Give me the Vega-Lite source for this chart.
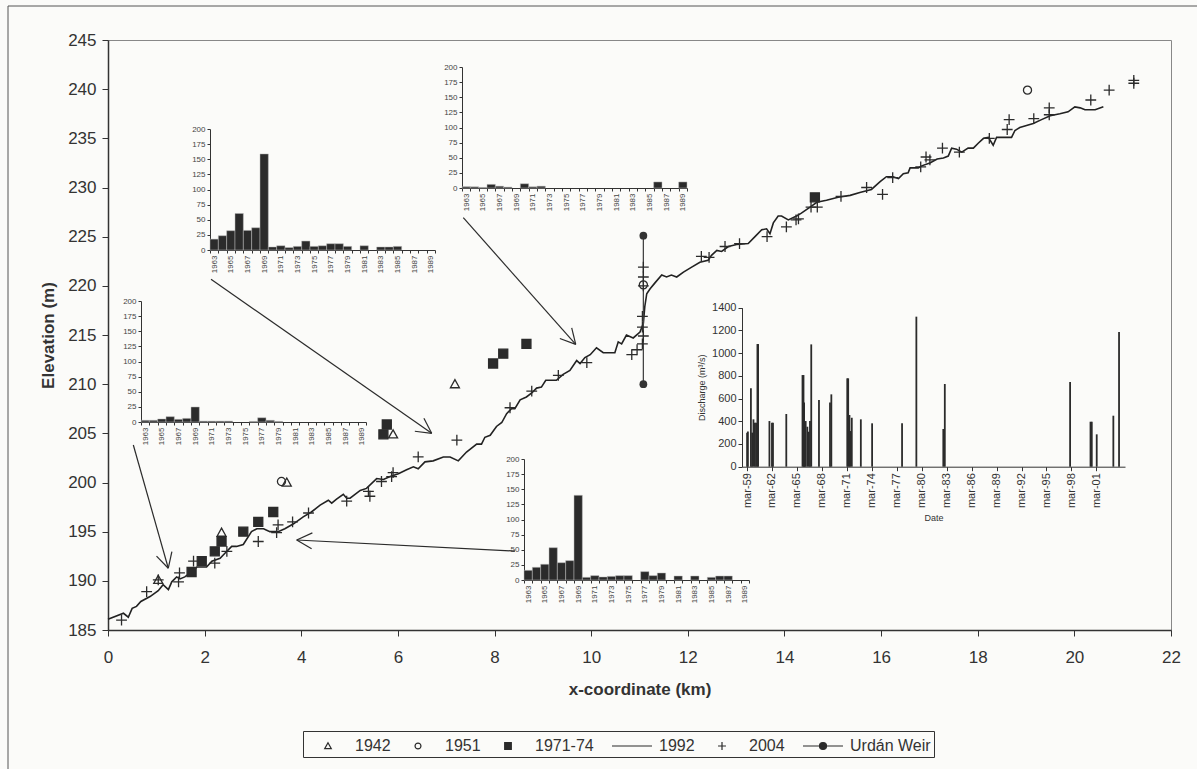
{
  "$schema": "https://vega.github.io/schema/vega-lite/v6.json",
  "autosize": {"type": "none"},
  "width": 1063,
  "height": 590,
  "padding": {"left": 108, "top": 40, "right": 26, "bottom": 139},
  "background": "#fbfbf9",
  "config": {
    "font": "Liberation Sans",
    "view": {"stroke": "#888", "strokeWidth": 1},
    "axis": {"grid": false, "domainColor": "#333", "tickColor": "#333", "labelColor": "#333", "titleColor": "#333", "labelFont": "Liberation Sans", "titleFont": "Liberation Sans"}
  },
  "datasets": {
    "line1992": [
      {"x":0.00,"y":186.1},{"x":0.32,"y":186.7},{"x":0.42,"y":186.3},{"x":0.50,"y":187.2},{"x":0.59,"y":187.4},{"x":0.68,"y":187.9},{"x":0.87,"y":188.4},{"x":1.04,"y":189.0},{"x":1.14,"y":189.6},{"x":1.25,"y":189.1},{"x":1.32,"y":189.9},{"x":1.42,"y":190.4},{"x":1.49,"y":190.2},{"x":1.59,"y":190.4},{"x":1.70,"y":190.8},{"x":1.84,"y":191.4},{"x":2.04,"y":191.4},{"x":2.15,"y":192.0},{"x":2.32,"y":192.3},{"x":2.42,"y":192.8},{"x":2.56,"y":193.5},{"x":2.66,"y":193.5},{"x":2.80,"y":193.7},{"x":2.97,"y":195.0},{"x":3.08,"y":195.3},{"x":3.22,"y":195.3},{"x":3.35,"y":195.0},{"x":3.52,"y":195.0},{"x":3.66,"y":195.3},{"x":3.84,"y":195.8},{"x":4.04,"y":196.5},{"x":4.21,"y":197.0},{"x":4.39,"y":197.7},{"x":4.56,"y":198.2},{"x":4.63,"y":197.9},{"x":4.73,"y":198.3},{"x":4.87,"y":198.8},{"x":4.94,"y":198.4},{"x":5.01,"y":198.4},{"x":5.22,"y":199.2},{"x":5.35,"y":199.4},{"x":5.56,"y":200.4},{"x":5.70,"y":200.3},{"x":5.84,"y":200.6},{"x":6.01,"y":200.9},{"x":6.18,"y":201.3},{"x":6.32,"y":201.6},{"x":6.42,"y":201.4},{"x":6.56,"y":202.1},{"x":6.73,"y":202.2},{"x":6.94,"y":202.6},{"x":7.08,"y":202.6},{"x":7.25,"y":202.2},{"x":7.42,"y":203.1},{"x":7.63,"y":203.9},{"x":7.73,"y":203.9},{"x":7.80,"y":204.6},{"x":7.91,"y":204.8},{"x":8.04,"y":205.7},{"x":8.15,"y":206.1},{"x":8.25,"y":207.0},{"x":8.35,"y":207.5},{"x":8.42,"y":207.5},{"x":8.53,"y":208.4},{"x":8.66,"y":208.7},{"x":8.77,"y":209.1},{"x":8.87,"y":209.6},{"x":8.97,"y":209.7},{"x":9.06,"y":210.4},{"x":9.28,"y":210.4},{"x":9.42,"y":211.0},{"x":9.56,"y":211.4},{"x":9.70,"y":212.4},{"x":9.77,"y":212.1},{"x":9.87,"y":212.7},{"x":9.98,"y":213.0},{"x":10.11,"y":213.7},{"x":10.25,"y":213.2},{"x":10.49,"y":213.2},{"x":10.56,"y":214.3},{"x":10.63,"y":214.1},{"x":10.73,"y":215.0},{"x":10.87,"y":214.7},{"x":11.01,"y":215.3},{"x":11.08,"y":216.2},{"x":11.11,"y":217.9},{"x":11.15,"y":219.2},{"x":11.22,"y":219.7},{"x":11.32,"y":220.3},{"x":11.46,"y":221.1},{"x":11.56,"y":220.9},{"x":11.66,"y":221.1},{"x":11.77,"y":220.9},{"x":11.91,"y":221.4},{"x":12.08,"y":221.9},{"x":12.25,"y":222.4},{"x":12.42,"y":222.6},{"x":12.49,"y":223.1},{"x":12.60,"y":223.6},{"x":12.70,"y":223.5},{"x":12.84,"y":224.0},{"x":13.01,"y":224.2},{"x":13.25,"y":224.3},{"x":13.39,"y":225.0},{"x":13.53,"y":225.7},{"x":13.63,"y":225.8},{"x":13.70,"y":225.3},{"x":13.77,"y":226.4},{"x":13.87,"y":227.1},{"x":13.94,"y":227.1},{"x":14.08,"y":226.7},{"x":14.25,"y":227.1},{"x":14.35,"y":227.4},{"x":14.53,"y":228.0},{"x":14.67,"y":228.5},{"x":14.87,"y":228.7},{"x":15.11,"y":229.0},{"x":15.36,"y":229.2},{"x":15.56,"y":229.5},{"x":15.80,"y":229.8},{"x":15.98,"y":230.6},{"x":16.11,"y":231.1},{"x":16.25,"y":231.1},{"x":16.36,"y":230.9},{"x":16.46,"y":231.4},{"x":16.56,"y":231.5},{"x":16.60,"y":232.0},{"x":16.77,"y":232.0},{"x":16.84,"y":232.2},{"x":17.01,"y":232.5},{"x":17.16,"y":232.9},{"x":17.29,"y":233.0},{"x":17.39,"y":233.2},{"x":17.46,"y":234.0},{"x":17.56,"y":233.9},{"x":17.67,"y":233.6},{"x":17.80,"y":234.0},{"x":17.91,"y":234.0},{"x":18.01,"y":234.5},{"x":18.12,"y":235.0},{"x":18.22,"y":235.1},{"x":18.32,"y":234.3},{"x":18.39,"y":235.1},{"x":18.70,"y":235.1},{"x":18.77,"y":235.8},{"x":18.87,"y":236.1},{"x":19.01,"y":236.3},{"x":19.15,"y":236.5},{"x":19.32,"y":236.9},{"x":19.50,"y":237.3},{"x":19.70,"y":237.5},{"x":19.87,"y":237.7},{"x":20.01,"y":238.2},{"x":20.12,"y":238.1},{"x":20.22,"y":237.9},{"x":20.43,"y":237.9},{"x":20.60,"y":238.2}
    ],
    "points": [
      {"s":"1942","x":1.04,"y":190.1},{"s":"1942","x":2.35,"y":194.9},{"s":"1942","x":3.70,"y":200.0},{"s":"1942","x":5.90,"y":204.9},{"s":"1942","x":7.18,"y":210.0},
      {"s":"1951","x":3.59,"y":200.1},{"s":"1951","x":11.08,"y":220.1},{"s":"1951","x":19.03,"y":239.9},
      {"s":"1971-74","x":1.73,"y":190.9},{"s":"1971-74","x":1.94,"y":192.0},{"s":"1971-74","x":2.21,"y":193.0},{"s":"1971-74","x":2.35,"y":194.0},{"s":"1971-74","x":2.80,"y":195.0},{"s":"1971-74","x":3.11,"y":196.0},{"s":"1971-74","x":3.42,"y":197.0},{"s":"1971-74","x":5.70,"y":204.9},{"s":"1971-74","x":5.77,"y":205.9},{"s":"1971-74","x":7.97,"y":212.1},{"s":"1971-74","x":8.18,"y":213.1},{"s":"1971-74","x":8.66,"y":214.1},{"s":"1971-74","x":14.63,"y":229.0},
      {"s":"2004","x":0.28,"y":186.0},{"s":"2004","x":0.80,"y":188.9},{"s":"2004","x":1.04,"y":190.1},{"s":"2004","x":1.46,"y":189.9},{"s":"2004","x":1.48,"y":190.8},{"s":"2004","x":1.77,"y":192.0},{"s":"2004","x":2.21,"y":191.8},{"s":"2004","x":2.46,"y":193.0},{"s":"2004","x":3.11,"y":194.0},{"s":"2004","x":3.49,"y":194.9},{"s":"2004","x":3.52,"y":195.7},{"s":"2004","x":3.82,"y":196.0},{"s":"2004","x":4.15,"y":196.9},{"s":"2004","x":4.94,"y":198.1},{"s":"2004","x":5.39,"y":199.1},{"s":"2004","x":5.42,"y":198.6},{"s":"2004","x":5.66,"y":200.1},{"s":"2004","x":5.87,"y":200.6},{"s":"2004","x":5.90,"y":201.0},{"s":"2004","x":6.42,"y":202.6},{"s":"2004","x":7.22,"y":204.3},{"s":"2004","x":8.32,"y":207.6},{"s":"2004","x":8.77,"y":209.3},{"s":"2004","x":9.32,"y":210.9},{"s":"2004","x":9.91,"y":212.2},{"s":"2004","x":10.84,"y":213.0},{"s":"2004","x":10.95,"y":213.5},{"s":"2004","x":11.06,"y":214.1},{"s":"2004","x":11.08,"y":214.9},{"s":"2004","x":11.06,"y":215.8},{"s":"2004","x":11.06,"y":216.9},{"s":"2004","x":11.08,"y":220.0},{"s":"2004","x":11.08,"y":220.9},{"s":"2004","x":11.08,"y":221.9},{"s":"2004","x":12.28,"y":223.0},{"s":"2004","x":12.44,"y":222.9},{"s":"2004","x":12.77,"y":224.0},{"s":"2004","x":13.07,"y":224.3},{"s":"2004","x":13.64,"y":225.0},{"s":"2004","x":14.04,"y":226.0},{"s":"2004","x":14.24,"y":226.7},{"s":"2004","x":14.29,"y":226.8},{"s":"2004","x":14.55,"y":228.0},{"s":"2004","x":14.68,"y":228.0},{"s":"2004","x":15.17,"y":229.1},{"s":"2004","x":15.70,"y":230.0},{"s":"2004","x":16.03,"y":229.3},{"s":"2004","x":16.24,"y":231.0},{"s":"2004","x":16.82,"y":232.1},{"s":"2004","x":16.93,"y":233.1},{"s":"2004","x":17.01,"y":232.8},{"s":"2004","x":17.27,"y":234.0},{"s":"2004","x":17.62,"y":233.6},{"s":"2004","x":18.24,"y":235.0},{"s":"2004","x":18.61,"y":235.9},{"s":"2004","x":18.65,"y":236.9},{"s":"2004","x":19.16,"y":237.0},{"s":"2004","x":19.48,"y":238.1},{"s":"2004","x":19.48,"y":237.4},{"s":"2004","x":20.34,"y":238.9},{"s":"2004","x":20.72,"y":239.9},{"s":"2004","x":21.23,"y":240.9},{"s":"2004","x":21.23,"y":240.6}
    ],
    "weir": [{"x":11.08,"y":210.0},{"x":11.08,"y":225.1}],
    "arrows": [
      {"x":0.524,"y":203.81,"x2":1.248,"y2":191.28},{"x":1.322,"y":192.96,"x2":1.248,"y2":191.28},{"x":1.004,"y":192.52,"x2":1.248,"y2":191.28},
      {"x":2.132,"y":220.66,"x2":6.699,"y2":205.0},{"x":6.538,"y":206.54,"x2":6.699,"y2":205.0},{"x":6.350,"y":205.21,"x2":6.699,"y2":205.0},
      {"x":7.353,"y":226.93,"x2":9.680,"y2":214.05},{"x":9.597,"y":215.73,"x2":9.680,"y2":214.05},{"x":9.351,"y":214.65,"x2":9.680,"y2":214.05},
      {"x":8.423,"y":193.03,"x2":3.905,"y2":194.15},{"x":4.214,"y":193.27,"x2":3.905,"y2":194.15},{"x":4.230,"y":194.88,"x2":3.905,"y2":194.15}
    ],
    "insA": [{"yr":1963,"n":18},{"yr":1964,"n":23.6},{"yr":1965,"n":31.9},{"yr":1966,"n":60.4},{"yr":1967,"n":32.4},{"yr":1968,"n":36.8},{"yr":1969,"n":158.8},{"yr":1970,"n":5},{"yr":1971,"n":7},{"yr":1972,"n":4},{"yr":1973,"n":6},{"yr":1974,"n":14.8},{"yr":1975,"n":6},{"yr":1976,"n":7},{"yr":1977,"n":10.4},{"yr":1978,"n":10.4},{"yr":1979,"n":6},{"yr":1981,"n":7},{"yr":1983,"n":5},{"yr":1984,"n":5},{"yr":1985,"n":6}],
    "insB": [{"yr":1963,"n":2.2},{"yr":1964,"n":2},{"yr":1965,"n":1},{"yr":1966,"n":6},{"yr":1967,"n":3},{"yr":1968,"n":1.5},{"yr":1970,"n":7},{"yr":1971,"n":2},{"yr":1972,"n":3},{"yr":1986,"n":10},{"yr":1989,"n":10}],
    "insC": [{"yr":1963,"n":2.8},{"yr":1964,"n":2.8},{"yr":1965,"n":5},{"yr":1966,"n":8.8},{"yr":1967,"n":4.4},{"yr":1968,"n":6},{"yr":1969,"n":24.8},{"yr":1970,"n":1.5},{"yr":1971,"n":1.5},{"yr":1972,"n":1.5},{"yr":1973,"n":1.5},{"yr":1976,"n":1},{"yr":1977,"n":7},{"yr":1978,"n":2.8},{"yr":1979,"n":1}],
    "insD": [{"yr":1963,"n":16},{"yr":1964,"n":21},{"yr":1965,"n":26},{"yr":1966,"n":53.4},{"yr":1967,"n":28.6},{"yr":1968,"n":32},{"yr":1969,"n":140},{"yr":1970,"n":4.4},{"yr":1971,"n":7.2},{"yr":1972,"n":5},{"yr":1973,"n":6},{"yr":1974,"n":7.2},{"yr":1975,"n":7.2},{"yr":1977,"n":13.8},{"yr":1978,"n":7.2},{"yr":1979,"n":11.6},{"yr":1981,"n":6.6},{"yr":1983,"n":6.6},{"yr":1985,"n":4.4},{"yr":1986,"n":6.6},{"yr":1987,"n":6.6}],
    "dis": [
      {"d":"1959/03/05","q":300},{"d":"1959/04/10","q":310},{"d":"1959/08/20","q":690},{"d":"1959/10/15","q":300},{"d":"1959/12/10","q":417},{"d":"1960/02/10","q":387},{"d":"1960/04/05","q":387},{"d":"1960/06/01","q":1080},{"d":"1960/07/01","q":1080},{"d":"1961/11/10","q":402},{"d":"1962/03/01","q":387},{"d":"1962/04/15","q":387},{"d":"1963/11/20","q":464},{"d":"1965/11/01","q":807},{"d":"1965/12/15","q":807},{"d":"1966/01/10","q":566},{"d":"1966/02/10","q":317},{"d":"1966/03/20","q":402},{"d":"1966/06/01","q":352},{"d":"1966/08/01","q":308},{"d":"1966/09/25","q":402},{"d":"1966/11/20","q":1077},{"d":"1967/10/25","q":587},{"d":"1969/02/20","q":566},{"d":"1969/04/20","q":637},{"d":"1971/03/20","q":778},{"d":"1971/04/30","q":778},{"d":"1971/06/25","q":455},{"d":"1971/07/25","q":314},{"d":"1971/10/05","q":431},{"d":"1972/11/05","q":417},{"d":"1974/03/15","q":382},{"d":"1977/10/20","q":382},{"d":"1979/07/10","q":1321},{"d":"1982/10/05","q":332},{"d":"1982/12/10","q":728},{"d":"1998/01/01","q":745},{"d":"2000/06/15","q":396},{"d":"2000/08/10","q":396},{"d":"2001/03/15","q":285},{"d":"2003/03/15","q":449},{"d":"2003/11/20","q":1186}
    ],
    "frame": [{"a":0,"b":1}]
  },
  "layer": [
    {
      "layer": [
        {
          "data": {"name": "line1992"},
          "mark": {"type": "line", "color": "#222", "strokeWidth": 1.6},
          "encoding": {
            "x": {"field": "x", "type": "quantitative", "scale": {"domain": [0, 22], "nice": false},
                  "axis": {"orient": "bottom", "values": [0,2,4,6,8,10,12,14,16,18,20,22], "title": "x-coordinate (km)", "titleFontSize": 17, "titleFontWeight": "bold", "labelFontSize": 17, "tickSize": 6, "labelPadding": 13, "titlePadding": 16, "domainWidth": 1.5, "labelFlush": false}},
            "y": {"field": "y", "type": "quantitative", "scale": {"domain": [185, 245], "nice": false, "zero": false},
                  "axis": {"orient": "left", "values": [185,190,195,200,205,210,215,220,225,230,235,240,245], "title": "Elevation (m)", "titleFontSize": 17, "titleFontWeight": "bold", "labelFontSize": 17, "tickSize": 6, "labelPadding": 6, "titlePadding": 10, "domainWidth": 1.5}}
          }
        },
        {
          "data": {"name": "weir"},
          "mark": {"type": "line", "color": "#444", "strokeWidth": 1.3, "point": {"filled": true, "size": 60, "color": "#333", "opacity": 1}},
          "encoding": {
            "x": {"field": "x", "type": "quantitative"},
            "y": {"field": "y", "type": "quantitative"}
          }
        },
        {
          "data": {"name": "points"},
          "mark": {"type": "point", "filled": true, "size": 900, "strokeWidth": 1.3, "opacity": 1},
          "encoding": {
            "x": {"field": "x", "type": "quantitative"},
            "y": {"field": "y", "type": "quantitative"},
            "shape": {"field": "s", "type": "nominal",
              "scale": {"domain": ["1942","1951","1971-74","1992","2004","Urdán Weir"],
                        "range": ["M0,-0.3L0.3,0.24L-0.3,0.24Z","M0.27,0A0.27,0.27 0 1 1 -0.27,0A0.27,0.27 0 1 1 0.27,0Z","M-0.3,-0.3H0.3V0.3H-0.3Z","M-1.818,0H1.818","M-0.36,0H0.36M0,-0.36V0.36","M-1.818,0H1.818M0.32,0A0.32,0.32 0 1 1 -0.32,0A0.32,0.32 0 1 1 0.32,0Z"]},
              "legend": {"orient": "none", "legendX": 195, "legendY": 691, "direction": "horizontal", "title": " ", "titleOrient": "left", "titleFontSize": 2, "titlePadding": 10, "strokeColor": "#333", "padding": 3, "symbolSize": 484, "symbolStrokeWidth": 1.2, "labelFontSize": 16, "labelOffset": 15, "columnPadding": 15, "labelColor": "#333", "labelFont": "Liberation Sans"}},
            "fill": {"field": "s", "type": "nominal",
              "scale": {"domain": ["1942","1951","1971-74","1992","2004","Urdán Weir"],
                        "range": ["transparent","transparent","#2b2b2b","#2b2b2b","#2b2b2b","#2b2b2b"]},
              "legend": {"orient": "none", "legendX": 195, "legendY": 691, "direction": "horizontal", "title": " ", "titleOrient": "left", "titleFontSize": 2, "titlePadding": 10, "strokeColor": "#333", "padding": 3, "symbolSize": 484, "symbolStrokeWidth": 1.2, "labelFontSize": 16, "labelOffset": 15, "columnPadding": 15, "labelColor": "#333", "labelFont": "Liberation Sans"}},
            "stroke": {"field": "s", "type": "nominal",
              "scale": {"domain": ["1942","1951","1971-74","1992","2004","Urdán Weir"],
                        "range": ["#2b2b2b","#2b2b2b","#2b2b2b","#2b2b2b","#2b2b2b","#2b2b2b"]},
              "legend": {"orient": "none", "legendX": 195, "legendY": 691, "direction": "horizontal", "title": " ", "titleOrient": "left", "titleFontSize": 2, "titlePadding": 10, "strokeColor": "#333", "padding": 3, "symbolSize": 484, "symbolStrokeWidth": 1.2, "labelFontSize": 16, "labelOffset": 15, "columnPadding": 15, "labelColor": "#333", "labelFont": "Liberation Sans"}}
          }
        },
        {
          "data": {"name": "arrows"},
          "mark": {"type": "rule", "color": "#2b2b2b", "strokeWidth": 1.2},
          "encoding": {
            "x": {"field": "x", "type": "quantitative"},
            "y": {"field": "y", "type": "quantitative"},
            "x2": {"field": "x2"},
            "y2": {"field": "y2"}
          }
        }
      ]
    },
    {
      "data": {"name": "insA"},
      "mark": {"type": "bar", "color": "#2b2b2b", "stroke": "#bbb", "strokeWidth": 0.5},
      "encoding": {
        "x": {"field": "yr", "type": "ordinal", "scale": {"domain": [1963,1964,1965,1966,1967,1968,1969,1970,1971,1972,1973,1974,1975,1976,1977,1978,1979,1980,1981,1982,1983,1984,1985,1986,1987,1988,1989], "range": [102, 327], "paddingInner": 0, "paddingOuter": 0},
              "axis": {"orient": "bottom", "labelExpr": "datum.value % 2 == 1 ? datum.label : ''", "tickBand": "extent", "labelAngle": -90, "labelFontSize": 8, "tickSize": 3, "labelPadding": 2, "labelOverlap": false, "labelBound": false, "offset": -380, "title": null, "labelColor": "#444"}},
        "y": {"field": "n", "type": "quantitative", "scale": {"domain": [0, 200], "range": [210, 89], "nice": false},
              "axis": {"orient": "left", "values": [0,25,50,75,100,125,150,175,200], "labelFontSize": 8, "tickSize": 3, "labelPadding": 2, "labelOverlap": false, "offset": -102, "title": null, "labelColor": "#444"}}
      }
    },
    {
      "data": {"name": "insB"},
      "mark": {"type": "bar", "color": "#2b2b2b", "stroke": "#bbb", "strokeWidth": 0.5},
      "encoding": {
        "x": {"field": "yr", "type": "ordinal", "scale": {"domain": [1963,1964,1965,1966,1967,1968,1969,1970,1971,1972,1973,1974,1975,1976,1977,1978,1979,1980,1981,1982,1983,1984,1985,1986,1987,1988,1989], "range": [354, 579], "paddingInner": 0, "paddingOuter": 0},
              "axis": {"orient": "bottom", "labelExpr": "datum.value % 2 == 1 ? datum.label : ''", "tickBand": "extent", "labelAngle": -90, "labelFontSize": 8, "tickSize": 3, "labelPadding": 2, "labelOverlap": false, "labelBound": false, "offset": -442, "title": null, "labelColor": "#444"}},
        "y": {"field": "n", "type": "quantitative", "scale": {"domain": [0, 200], "range": [148, 27], "nice": false},
              "axis": {"orient": "left", "values": [0,25,50,75,100,125,150,175,200], "labelFontSize": 8, "tickSize": 3, "labelPadding": 2, "labelOverlap": false, "offset": -354, "title": null, "labelColor": "#444"}}
      }
    },
    {
      "data": {"name": "insC"},
      "mark": {"type": "bar", "color": "#2b2b2b", "stroke": "#bbb", "strokeWidth": 0.5},
      "encoding": {
        "x": {"field": "yr", "type": "ordinal", "scale": {"domain": [1963,1964,1965,1966,1967,1968,1969,1970,1971,1972,1973,1974,1975,1976,1977,1978,1979,1980,1981,1982,1983,1984,1985,1986,1987,1988,1989], "range": [33, 258], "paddingInner": 0, "paddingOuter": 0},
              "axis": {"orient": "bottom", "labelExpr": "datum.value % 2 == 1 ? datum.label : ''", "tickBand": "extent", "labelAngle": -90, "labelFontSize": 8, "tickSize": 3, "labelPadding": 2, "labelOverlap": false, "labelBound": false, "offset": -208, "title": null, "labelColor": "#444"}},
        "y": {"field": "n", "type": "quantitative", "scale": {"domain": [0, 200], "range": [382, 261], "nice": false},
              "axis": {"orient": "left", "values": [0,25,50,75,100,125,150,175,200], "labelFontSize": 8, "tickSize": 3, "labelPadding": 2, "labelOverlap": false, "offset": -33, "title": null, "labelColor": "#444"}}
      }
    },
    {
      "data": {"name": "insD"},
      "mark": {"type": "bar", "color": "#2b2b2b", "stroke": "#bbb", "strokeWidth": 0.5},
      "encoding": {
        "x": {"field": "yr", "type": "ordinal", "scale": {"domain": [1963,1964,1965,1966,1967,1968,1969,1970,1971,1972,1973,1974,1975,1976,1977,1978,1979,1980,1981,1982,1983,1984,1985,1986,1987,1988,1989], "range": [416, 641], "paddingInner": 0, "paddingOuter": 0},
              "axis": {"orient": "bottom", "labelExpr": "datum.value % 2 == 1 ? datum.label : ''", "tickBand": "extent", "labelAngle": -90, "labelFontSize": 8, "tickSize": 3, "labelPadding": 2, "labelOverlap": false, "labelBound": false, "offset": -50, "title": null, "labelColor": "#444"}},
        "y": {"field": "n", "type": "quantitative", "scale": {"domain": [0, 200], "range": [540, 419], "nice": false},
              "axis": {"orient": "left", "values": [0,25,50,75,100,125,150,175,200], "labelFontSize": 8, "tickSize": 3, "labelPadding": 2, "labelOverlap": false, "offset": -416, "title": null, "labelColor": "#444"}}
      }
    },
    {
      "data": {"name": "dis"},
      "mark": {"type": "bar", "width": 1.8, "color": "#2b2b2b"},
      "encoding": {
        "x": {"field": "d", "type": "temporal",
              "scale": {"domain": [{"year": 1959, "month": 3, "date": 1}, {"year": 2004, "month": 1, "date": 1}], "range": [634, 1017]},
              "axis": {"orient": "bottom", "values": [{"year":1959,"month":3,"date":1},{"year":1962,"month":3,"date":1},{"year":1965,"month":3,"date":1},{"year":1968,"month":3,"date":1},{"year":1971,"month":3,"date":1},{"year":1974,"month":3,"date":1},{"year":1977,"month":3,"date":1},{"year":1980,"month":3,"date":1},{"year":1983,"month":3,"date":1},{"year":1986,"month":3,"date":1},{"year":1989,"month":3,"date":1},{"year":1992,"month":3,"date":1},{"year":1995,"month":3,"date":1},{"year":1998,"month":3,"date":1},{"year":2001,"month":3,"date":1}],
                       "labelExpr": "lower(timeFormat(datum.value, '%b-%y'))", "labelAngle": -90, "labelFontSize": 11, "tickSize": 4, "labelPadding": 2, "offset": -163.3, "title": "Date", "titleFontSize": 9, "titleFontWeight": "normal", "titlePadding": 6, "labelFlush": false, "labelOverlap": false}},
        "y": {"field": "q", "type": "quantitative", "scale": {"domain": [0, 1400], "range": [426.7, 267.7], "nice": false},
              "axis": {"orient": "left", "values": [0,200,400,600,800,1000,1200,1400], "format": "d", "labelFontSize": 11, "tickSize": 4, "labelPadding": 2, "offset": -634, "title": "Discharge (m³/s)", "titleFontSize": 9, "titleFontWeight": "normal", "titlePadding": 5}}
      }
    },
    {
      "data": {"name": "frame"},
      "mark": {"type": "rect", "fill": "transparent", "stroke": "#555", "strokeWidth": 1},
      "encoding": {
        "x": {"field": "a", "type": "quantitative", "scale": {"domain": [0, 1], "range": [-100, 1100]}, "axis": null},
        "x2": {"field": "b"},
        "y": {"field": "a", "type": "quantitative", "scale": {"domain": [0, 1], "range": [-34, 760]}, "axis": null},
        "y2": {"field": "b"}
      }
    }
  ],
  "resolve": {"scale": {"x": "independent", "y": "independent"}, "axis": {"x": "independent", "y": "independent"}}
}
